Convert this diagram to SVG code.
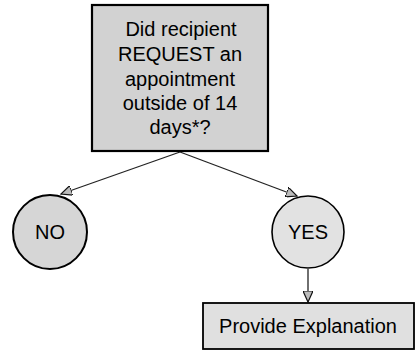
<svg xmlns="http://www.w3.org/2000/svg" width="417" height="356" viewBox="0 0 417 356">
<style>
.t{font-family:"Liberation Sans",Arial,sans-serif;font-size:20px;fill:#000;text-anchor:middle}
.c{stroke:#222;stroke-width:1.3;fill:none}
</style>
<defs>
<marker id="ah" viewBox="0 0 12 10" refX="11" refY="5" markerWidth="12" markerHeight="10" markerUnits="userSpaceOnUse" orient="auto">
<path d="M0,0 L11,5 L0,10 Z" fill="#bbb" stroke="#111" stroke-width="1.2"/>
</marker>
</defs>
<rect width="417" height="356" fill="#fff"/>
<g id="connectors">
<line class="c" x1="180" y1="152" x2="61" y2="194" marker-end="url(#ah)"/>
<line class="c" x1="180" y1="152" x2="297" y2="196" marker-end="url(#ah)"/>
<line class="c" x1="308" y1="269" x2="308" y2="302" marker-end="url(#ah)"/>
</g>
<g id="question">
<rect x="92" y="5" width="176" height="146" fill="#d2d2d2" stroke="#000" stroke-width="2.2"/>
<text class="t" x="181" y="36">Did recipient</text>
<text class="t" x="180" y="61">REQUEST an</text>
<text class="t" x="180" y="86">appointment</text>
<text class="t" x="180" y="110">outside of 14</text>
<text class="t" x="180" y="134">days*?</text>
</g>
<g id="no">
<circle cx="50" cy="232" r="37" fill="#d6d6d6" stroke="#000" stroke-width="2"/>
<text class="t" x="50" y="239">NO</text>
</g>
<g id="yes">
<circle cx="308" cy="232" r="36" fill="#e2e2e2" stroke="#000" stroke-width="1.6"/>
<text class="t" x="308" y="239">YES</text>
</g>
<g id="explain">
<rect x="203" y="303" width="211" height="46" fill="#e0e0e0" stroke="#000" stroke-width="1.8"/>
<text class="t" x="308" y="333">Provide Explanation</text>
</g>
</svg>
